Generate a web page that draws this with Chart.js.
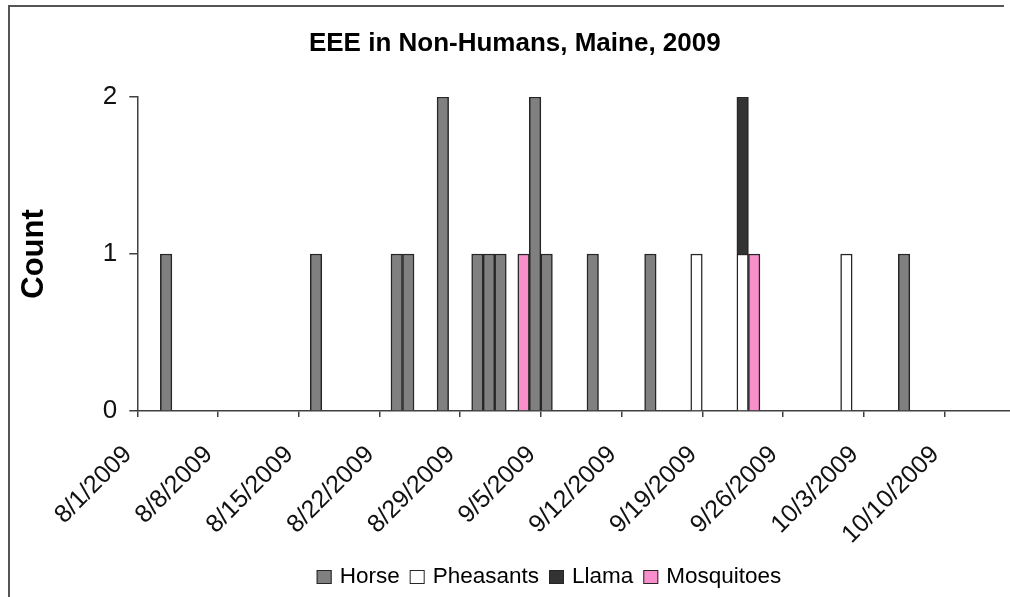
<!DOCTYPE html>
<html>
<head>
<meta charset="utf-8">
<script src="https://cdn.jsdelivr.net/npm/chart.js@4/dist/chart.umd.min.js"></script>
<style>
  html, body { margin: 0; padding: 0; background: #ffffff; overflow: hidden; }
  #chart { display: block; width: 1016px; height: 597px; }
</style>
</head>
<body>
<canvas id="chart" width="1016" height="597"></canvas>
<script>
// Daily categories, 8/1/2009 through 10/15/2009
const days = [
  '8/1/2009','8/2/2009','8/3/2009','8/4/2009','8/5/2009','8/6/2009','8/7/2009',
  '8/8/2009','8/9/2009','8/10/2009','8/11/2009','8/12/2009','8/13/2009','8/14/2009',
  '8/15/2009','8/16/2009','8/17/2009','8/18/2009','8/19/2009','8/20/2009','8/21/2009',
  '8/22/2009','8/23/2009','8/24/2009','8/25/2009','8/26/2009','8/27/2009','8/28/2009',
  '8/29/2009','8/30/2009','8/31/2009','9/1/2009','9/2/2009','9/3/2009','9/4/2009',
  '9/5/2009','9/6/2009','9/7/2009','9/8/2009','9/9/2009','9/10/2009','9/11/2009',
  '9/12/2009','9/13/2009','9/14/2009','9/15/2009','9/16/2009','9/17/2009','9/18/2009',
  '9/19/2009','9/20/2009','9/21/2009','9/22/2009','9/23/2009','9/24/2009','9/25/2009',
  '9/26/2009','9/27/2009','9/28/2009','9/29/2009','9/30/2009','10/1/2009','10/2/2009',
  '10/3/2009','10/4/2009','10/5/2009','10/6/2009','10/7/2009','10/8/2009','10/9/2009',
  '10/10/2009','10/11/2009','10/12/2009','10/13/2009','10/14/2009','10/15/2009'
];

// Weekly axis labels
const tickLabels = ['8/1/2009','8/8/2009','8/15/2009','8/22/2009','8/29/2009','9/5/2009',
  '9/12/2009','9/19/2009','9/26/2009','10/3/2009','10/10/2009'];

// Reported cases per species (date -> count)
const horseDates = ['8/3/2009','8/16/2009','8/23/2009','8/24/2009','8/27/2009','8/30/2009',
  '8/31/2009','9/1/2009','9/4/2009','9/5/2009','9/9/2009','9/14/2009','10/6/2009'];
const horseCounts = [1,1,1,1,2,1,1,1,2,1,1,1,1];

const pheasantDates = ['9/18/2009','9/22/2009','10/1/2009'];
const pheasantCounts = [1,1,1];

const llamaDates = ['9/22/2009'];
const llamaCounts = [1];

const mosquitoDates = ['9/3/2009','9/23/2009'];
const mosquitoCounts = [1,1];

function toSeries(dates, counts) {
  return days.map(d => {
    const i = dates.indexOf(d);
    return i >= 0 ? counts[i] : null;
  });
}

const FONT = "'Liberation Sans', Arial, sans-serif";
const EDGE = '#262626';

// White background with the frame's left and top edges
const framePlugin = {
  id: 'frame',
  beforeDraw(chart) {
    const ctx = chart.ctx;
    ctx.save();
    ctx.fillStyle = '#ffffff';
    ctx.fillRect(0, 0, chart.width, chart.height);
    ctx.strokeStyle = '#555555';
    ctx.lineWidth = 2;
    ctx.beginPath();
    ctx.moveTo(9, chart.height + 5);
    ctx.lineTo(9, 6);
    ctx.lineTo(1004, 6);
    ctx.stroke();
    ctx.restore();
  }
};

// Legend row beneath the axis labels
const legendRow = {
  id: 'legendRow',
  afterDraw(chart) {
    const ctx = chart.ctx;
    const size = 22.5, boxW = 15, boxH = 14, gapText = 8, gapItem = 10;
    ctx.save();
    ctx.font = size + 'px ' + FONT;
    ctx.textBaseline = 'middle';
    ctx.textAlign = 'left';
    const items = chart.data.datasets.map(ds => ({
      text: ds.label, fill: ds.backgroundColor, w: ctx.measureText(ds.label).width
    }));
    let total = 0;
    items.forEach((it, i) => { total += boxW + gapText + it.w + (i < items.length - 1 ? gapItem : 0); });
    let x = 549 - total / 2;
    const cy = 577;
    items.forEach(it => {
      ctx.fillStyle = it.fill;
      ctx.fillRect(x, cy - boxH / 2, boxW, boxH);
      ctx.strokeStyle = EDGE;
      ctx.lineWidth = 1;
      ctx.strokeRect(x + 0.5, cy - boxH / 2 + 0.5, boxW - 1, boxH - 1);
      x += boxW + gapText;
      ctx.fillStyle = '#000000';
      ctx.fillText(it.text, x, cy);
      x += it.w + gapItem;
    });
    ctx.restore();
  }
};

new Chart(document.getElementById('chart'), {
  type: 'bar',
  data: {
    labels: days,
    datasets: [
      { label: 'Horse', data: toSeries(horseDates, horseCounts), backgroundColor: '#808080' },
      { label: 'Pheasants', data: toSeries(pheasantDates, pheasantCounts), backgroundColor: '#ffffff' },
      { label: 'Llama', data: toSeries(llamaDates, llamaCounts), backgroundColor: '#333333' },
      { label: 'Mosquitoes', data: toSeries(mosquitoDates, mosquitoCounts), backgroundColor: '#f98fca' }
    ]
  },
  options: {
    responsive: false,
    maintainAspectRatio: false,
    animation: false,
    devicePixelRatio: 1,
    layout: { autoPadding: false, padding: { left: 16, right: 2.4, top: 0, bottom: 0 } },
    datasets: {
      bar: {
        barPercentage: 1,
        categoryPercentage: 1,
        borderWidth: 1.5,
        borderColor: EDGE
      }
    },
    plugins: {
      legend: { display: false },
      tooltip: { enabled: false },
      title: {
        display: true,
        text: 'EEE in Non-Humans, Maine, 2009',
        color: '#000000',
        font: { family: FONT, size: 26, weight: 'bold', lineHeight: 1.2 },
        padding: { top: 27.9, bottom: 37.9 }
      }
    },
    scales: {
      x: {
        stacked: true,
        afterFit(scale) {
          scale.height = 186;
          scale.paddingLeft = 0;
          scale.paddingRight = 0;
        },
        border: { color: '#404040', width: 1.5 },
        grid: {
          offset: true,
          drawOnChartArea: false,
          tickLength: 6,
          lineWidth: 1.5,
          color: c => (c.index % 7 === 0 ? '#404040' : 'rgba(0,0,0,0)')
        },
        ticks: {
          autoSkip: false,
          maxRotation: 45,
          minRotation: 45,
          labelOffset: -15,
          padding: 23,
          color: '#111111',
          font: { family: FONT, size: 25 },
          callback: (v, i) => (tickLabels.includes(days[i]) ? days[i] : '')
        }
      },
      y: {
        stacked: true,
        min: 0,
        max: 2,
        afterFit(scale) { scale.width = 121.3; },
        border: { color: '#404040', width: 1.5 },
        grid: { drawOnChartArea: false, tickLength: 8, lineWidth: 1.5, color: '#404040' },
        ticks: {
          stepSize: 1,
          padding: 12,
          color: '#111111',
          font: { family: FONT, size: 26 }
        },
        title: {
          display: true,
          text: 'Count',
          color: '#000000',
          font: { family: FONT, size: 31, weight: 'bold', lineHeight: 1.1 },
          padding: { top: 1, bottom: 0 }
        }
      }
    }
  },
  plugins: [framePlugin, legendRow]
});
</script>
</body>
</html>
